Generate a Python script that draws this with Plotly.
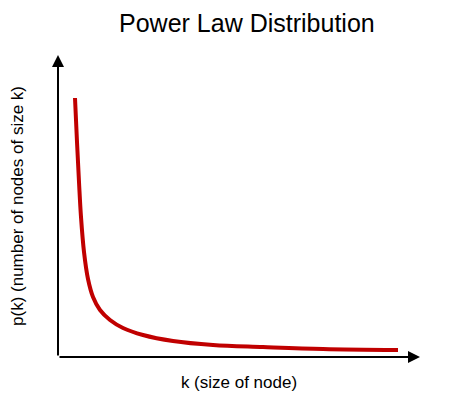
import plotly.graph_objects as go

# node size k and p(k) (arbitrary units)
k = [17, 19, 21, 23, 26, 30, 35, 42, 52, 65, 85, 115, 155, 205, 265, 340]
pk = [259, 215, 175, 140, 105, 78, 60, 47, 37, 29, 22, 16, 12, 10, 8, 7]

x_max = 362
y_max = 302

fig = go.Figure()
fig.add_trace(go.Scatter(x=k, y=pk, mode='lines', line=dict(color='#c00000', width=4, shape='spline'),
                         hoverinfo='skip'))

# axes drawn as arrows from the origin
for ax, ay in [(x_max, 0), (0, y_max)]:
    fig.add_annotation(x=ax, y=ay, ax=0, ay=0, xref='x', yref='y', axref='x', ayref='y',
                       showarrow=True, arrowhead=2, arrowsize=1.2, arrowwidth=2,
                       arrowcolor='black', text='')

fig.update_layout(
    width=455, height=414,
    margin=dict(l=50, r=43, t=47, b=65),
    paper_bgcolor='white', plot_bgcolor='white',
    showlegend=False,
    font=dict(family='Liberation Sans, Arial', color='black'),
    title=dict(text='Power Law Distribution', x=0.525, xanchor='center', y=0.985,
               yanchor='top', font=dict(size=25)),
    xaxis=dict(range=[0, x_max], showgrid=False, zeroline=False, showticklabels=False,
               ticks='', automargin=False,
               title=dict(text='k (size of node)', font=dict(size=17), standoff=19)),
    yaxis=dict(range=[0, y_max], showgrid=False, zeroline=False, showticklabels=False,
               ticks='', automargin=False,
               title=dict(text='p(k) (number of nodes of size k)', font=dict(size=17),
                          standoff=34)),
)

fig.write_html('out.html')
